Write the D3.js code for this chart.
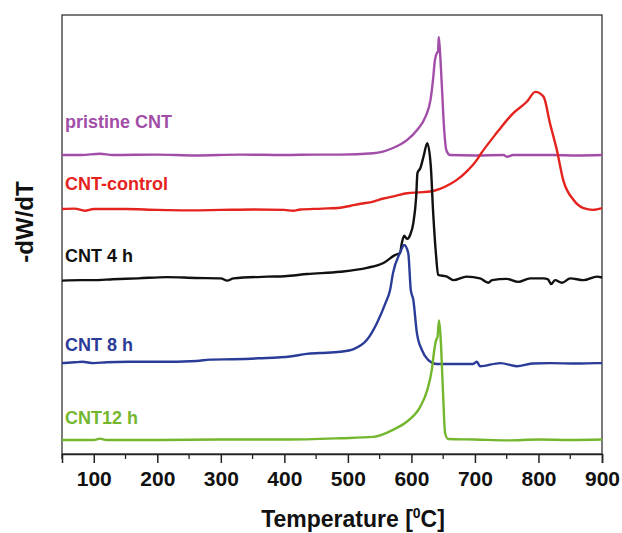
<!DOCTYPE html>
<html>
<head>
<meta charset="utf-8">
<script src="https://cdn.jsdelivr.net/npm/d3@7"></script>
<style>
  body { margin: 0; background: #fff; }
  svg { display: block; font-family: "Liberation Sans", Arial, sans-serif; }
</style>
</head>
<body>
<svg id="chart" width="622" height="533"></svg>
<script>
// -- Data (temperature in °C, signal in arbitrary stacked units) --
const xTicks = [100, 200, 300, 400, 500, 600, 700, 800, 900];
const xMinorTicks = [50, 150, 250, 350, 450, 550, 650, 750, 850];

const pristine = [
  [50, 68.1], [80, 68.1], [110, 68.4], [130, 68.1], [200, 68.2], [260, 68.0], [330, 68.2],
  [400, 68.1], [450, 68.2], [488, 68.2], [540, 68.5], [571, 69.7], [593, 71.5], [609, 73.8],
  [622, 76.8], [630, 80.6], [634, 85.2], [637, 89.7], [640, 91.3], [642, 91.8], [643, 95.0],
  [645, 91.6], [648, 83.6], [651.6, 73.8], [655, 69.2], [661, 68.1], [700, 68.0], [745, 68.1],
  [751, 67.7], [760, 68.1], [820, 68.1], [860, 68.0], [900, 68.1]
];

const control = [
  [50, 55.8], [70, 55.9], [86, 55.4], [100, 55.8], [150, 55.8], [200, 55.6], [250, 55.5],
  [300, 55.6], [350, 55.7], [400, 55.6], [414, 55.4], [425, 55.7], [460, 55.9], [488, 56.1],
  [503, 56.5], [520, 57.0], [540, 57.5], [556, 58.2], [575, 58.8], [593, 59.4], [612, 59.6],
  [630, 59.8], [645, 60.4], [661, 61.5], [672, 62.5], [688, 64.5], [703, 67.0], [708, 68.1],
  [734, 73.1], [760, 77.6], [782, 80.3], [795, 82.5], [808, 81.4], [818, 75.4], [829, 69.2],
  [839, 62.4], [855, 57.9], [871, 56.0], [886, 55.6], [900, 56.0]
];

const cnt4h = [
  [50, 39.5], [80, 39.6], [100, 39.6], [130, 39.8], [170, 40.0], [215, 40.3], [260, 40.1],
  [300, 40.0], [310, 39.5], [320, 40.0], [373, 40.4], [400, 40.5], [436, 41.0], [488, 41.5],
  [530, 42.4], [556, 43.5], [574, 45.3], [582, 45.8], [585, 48.1], [588.6, 49.7], [593, 49.0],
  [598, 49.9], [603, 52.6], [607.5, 58.6], [609.5, 64.0], [614, 65.1], [619, 67.7], [625, 70.8],
  [630.6, 65.4], [634, 55.6], [639, 44.9], [642, 40.8], [656, 40.4], [666, 39.6], [687, 40.4],
  [708, 40.0], [721, 39.0], [727, 39.6], [750, 39.9], [768, 39.2], [787, 40.0], [808, 40.0],
  [815, 39.8], [820, 38.7], [826, 39.6], [837, 39.0], [850, 40.0], [871, 39.6], [892, 40.4],
  [900, 40.2]
];

const cnt8h = [
  [50, 20.7], [70, 20.9], [82, 21.0], [100, 20.7], [120, 20.9], [155, 21.0], [200, 21.0],
  [262, 21.2], [283, 21.5], [320, 21.6], [360, 21.8], [409, 22.2], [435, 22.8], [456, 23.0],
  [488, 23.3], [509, 23.9], [530, 26.0], [545.6, 29.8], [559, 34.3], [566.5, 37.4], [571, 41.2],
  [582, 45.8], [588.6, 47.6], [595, 45.8], [599, 37.4], [603, 35.1], [608.6, 27.6], [616.5, 23.7],
  [626.6, 21.4], [640, 20.5], [661, 20.5], [697, 20.5], [703, 21.0], [708, 20.0], [740, 20.7],
  [766, 20.0], [790, 20.6], [818, 20.7], [860, 20.6], [892, 20.7], [900, 20.7]
];

const cnt12h = [
  [50, 3.2], [100, 3.2], [110, 3.5], [120, 3.2], [200, 3.2], [300, 3.3], [400, 3.3],
  [488, 3.6], [540, 3.9], [571, 5.5], [593, 7.4], [614, 10.8], [625, 14.6], [632, 19.1],
  [636, 23.7], [639, 26.0], [641, 26.6], [643.5, 30.4], [646, 26.4], [649.6, 14.6], [653, 4.8],
  [658, 3.4], [700, 3.3], [750, 3.1], [800, 3.3], [850, 3.2], [900, 3.3]
];

const seriesNames = ["pristine CNT", "CNT-control", "CNT 4 h", "CNT 8 h", "CNT12 h"];
const seriesData = [pristine, control, cnt4h, cnt8h, cnt12h];
const seriesColors = ["#a24ea8", "#e5231e", "#111111", "#2a3c98", "#74b72e"];
const labelBaselines = [128, 190, 262, 351, 424];

// -- Layout --
const svg = d3.select("#chart");
const plot = { left: 62, right: 602, top: 15, bottom: 454 };

const x = d3.scaleLinear().domain([50, 900]).range([plot.left, plot.right]);
const y = d3.scaleLinear().domain([0, 100]).range([plot.bottom, plot.top]);

// Frame
svg.append("rect")
    .attr("x", plot.left)
    .attr("y", plot.top)
    .attr("width", plot.right - plot.left)
    .attr("height", plot.bottom - plot.top)
    .attr("fill", "none")
    .attr("stroke", "#333")
    .attr("stroke-width", 1.3);

// Bottom axis: major + minor ticks, outward
const axisG = svg.append("g").attr("transform", `translate(0,${plot.bottom})`);
axisG.call(d3.axisBottom(x).tickValues(xTicks).tickSize(9).tickPadding(8).tickFormat(d3.format("d")));
axisG.call(g => g.select(".domain").attr("stroke", "#222").attr("stroke-width", 1.5));
axisG.selectAll(".tick line").attr("stroke", "#222").attr("stroke-width", 1.5);
axisG.selectAll(".tick text")
    .attr("fill", "#111")
    .style("font-size", "21px")
    .style("font-weight", "bold")
    .style("font-family", "'Liberation Sans', Arial, sans-serif");

svg.append("g").selectAll("line")
    .data(xMinorTicks)
    .join("line")
    .attr("x1", d => x(d)).attr("x2", d => x(d))
    .attr("y1", plot.bottom).attr("y2", plot.bottom + 5)
    .attr("stroke", "#222")
    .attr("stroke-width", 1.3);

// Curves
const line = d3.line()
    .x(d => x(d[0]))
    .y(d => y(d[1]))
    .curve(d3.curveMonotoneX);

svg.append("g").selectAll("path")
    .data(seriesData)
    .join("path")
    .attr("d", line)
    .attr("fill", "none")
    .attr("stroke", (d, i) => seriesColors[i])
    .attr("stroke-width", 2.4)
    .attr("stroke-linejoin", "round");

// Series labels
svg.append("g").selectAll("text")
    .data(seriesNames)
    .join("text")
    .attr("x", 65)
    .attr("y", (d, i) => labelBaselines[i])
    .attr("fill", (d, i) => seriesColors[i])
    .style("font-size", "18px")
    .style("font-weight", "bold")
    .text(d => d);

// Axis titles
const xTitle = svg.append("text")
    .attr("x", 353)
    .attr("y", 527)
    .attr("text-anchor", "middle")
    .attr("fill", "#111")
    .style("font-size", "23px")
    .style("font-weight", "bold");
xTitle.append("tspan").text("Temperature [");
xTitle.append("tspan").attr("dy", -9).style("font-size", "14px").text("0");
xTitle.append("tspan").attr("dy", 9).text("C]");

svg.append("text")
    .attr("transform", "translate(33,222) rotate(-90)")
    .attr("text-anchor", "middle")
    .attr("fill", "#111")
    .style("font-size", "24px")
    .style("font-weight", "bold")
    .text("-dW/dT");
</script>
</body>
</html>
